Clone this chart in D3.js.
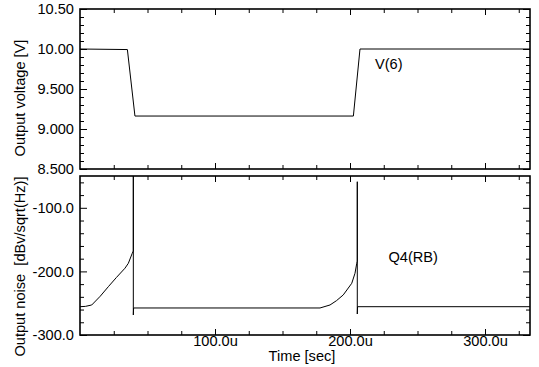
<!DOCTYPE html>
<html><head><meta charset="utf-8">
<script src="https://cdn.jsdelivr.net/npm/d3@7"></script>
<style>
html,body{margin:0;padding:0;background:#fff;}
svg{display:block;font-family:"Liberation Sans",Arial,sans-serif;}
</style></head>
<body><svg id="c" width="539" height="367"></svg>
<script>
// ---- data (time in microseconds) ----
const timeV  = [0, 35.1, 40.7, 202.5, 207.4, 333.3];
const voltV  = [10.0, 9.993, 9.162, 9.162, 10.0, 10.0];

const timeN  = [0, 4, 8.7, 15, 21, 27, 33.3, 35.8, 38.7, 39.5, 39.5, 39.5, 39.7, 177.8, 185.2, 190, 195, 201.3, 203.7, 205, 205.4, 205.4, 205.4, 205.6, 333.3];
const noiseN = [-255.5, -255, -252.8, -239, -224, -209.5, -195, -187.3, -171.5, -168, -50, -268.5, -257.5, -257.5, -252.8, -246, -237, -218.7, -203, -187.3, -184, -59, -267, -255.5, -255.5];

const xMajor = [100, 200, 300];
const xMajorLabels = ["100.0u", "200.0u", "300.0u"];
const xMinor = [25, 50, 75, 125, 150, 175, 225, 250, 275, 325];

const vMajor = [10.5, 10.0, 9.5, 9.0, 8.5];
const vMajorLabels = ["10.50", "10.00", "9.500", "9.000", "8.500"];
const vMinor = [10.4, 10.3, 10.2, 10.1, 9.9, 9.8, 9.7, 9.6, 9.4, 9.3, 9.2, 9.1, 8.9, 8.8, 8.7, 8.6];

const nMajor = [-100, -200, -300];
const nMajorLabels = ["-100.0", "-200.0", "-300.0"];
const nMinor = [-60, -80, -120, -140, -160, -180, -220, -240, -260, -280];

const seriesLabels = ["V(6)", "Q4(RB)"];
const yTitles = ["Output voltage [V]", "Output noise  [dBv/sqrt(Hz)]"];
const xTitle = "Time [sec]";

// ---- layout ----
const svg = d3.select("#c");
const L = 80, R = 530;
const top1 = 9, bot1 = 169;
const top2 = 176, bot2 = 335;
const FS = 14.6;

const x = d3.scaleLinear().domain([0, 333.333]).range([L, R]);
const yV = d3.scaleLinear().domain([8.5, 10.5]).range([bot1, top1]);
const yN = d3.scaleLinear().domain([-300, -50]).range([bot2, top2]);

function panel(y, top, bot, major, majorLabels, minor, idx) {
  const g = svg.append("g");
  const cid = "clip" + idx;
  svg.append("clipPath").attr("id", cid).append("rect")
    .attr("x", L).attr("y", top).attr("width", R - L).attr("height", bot - top);

  function styleAxis(sel) {
    sel.select(".domain").remove();
    sel.selectAll(".tick line").attr("stroke", "#000").attr("stroke-width", 1);
    sel.selectAll("text").attr("font-size", FS).attr("fill", "#000")
      .attr("font-family", '"Liberation Sans",Arial,sans-serif');
  }
  g.append("g").attr("transform", `translate(${L},0)`)
    .call(d3.axisLeft(y).tickValues(major).tickSize(-7).tickPadding(6)
      .tickFormat((d, i) => majorLabels[i]))
    .call(styleAxis);
  g.append("g").attr("transform", `translate(${L},0)`)
    .call(d3.axisLeft(y).tickValues(minor).tickSize(-4).tickFormat(""))
    .call(styleAxis);
  g.append("g").attr("transform", `translate(${R},0)`)
    .call(d3.axisRight(y).tickValues(major).tickSize(-7).tickFormat(""))
    .call(styleAxis);
  g.append("g").attr("transform", `translate(${R},0)`)
    .call(d3.axisRight(y).tickValues(minor).tickSize(-4).tickFormat(""))
    .call(styleAxis);
  g.append("g").attr("transform", `translate(0,${top})`)
    .call(d3.axisTop(x).tickValues(xMajor).tickSize(-6).tickFormat(""))
    .call(styleAxis);
  g.append("g").attr("transform", `translate(0,${top})`)
    .call(d3.axisTop(x).tickValues(xMinor).tickSize(-4).tickFormat(""))
    .call(styleAxis);
  g.append("g").attr("transform", `translate(0,${bot})`)
    .call(d3.axisBottom(x).tickValues(xMajor).tickSize(-6).tickPadding(1)
      .tickFormat((d, i) => idx === 2 ? xMajorLabels[i] : ""))
    .call(styleAxis);
  g.append("g").attr("transform", `translate(0,${bot})`)
    .call(d3.axisBottom(x).tickValues(xMinor).tickSize(-4).tickFormat(""))
    .call(styleAxis);
  g.append("rect").attr("x", L).attr("y", top).attr("width", R - L).attr("height", bot - top)
    .attr("fill", "none").attr("stroke", "#000").attr("stroke-width", 1.6);
  return cid;
}

const c1 = panel(yV, top1, bot1, vMajor, vMajorLabels, vMinor, 1);
const c2 = panel(yN, top2, bot2, nMajor, nMajorLabels, nMinor, 2);

const lineV = d3.line().x((d, i) => x(timeV[i])).y(d => yV(d));
svg.append("path").datum(voltV).attr("d", lineV).attr("clip-path", `url(#${c1})`)
  .attr("fill", "none").attr("stroke", "#000").attr("stroke-width", 1);

const lineN = d3.line().x((d, i) => x(timeN[i])).y(d => yN(d));
svg.append("path").datum(noiseN).attr("d", lineN).attr("clip-path", `url(#${c2})`)
  .attr("fill", "none").attr("stroke", "#000").attr("stroke-width", 1);

svg.append("text").attr("x", x(218.5)).attr("y", yV(9.75)).attr("font-size", FS).text(seriesLabels[0]);
svg.append("text").attr("x", x(228.5)).attr("y", yN(-185)).attr("font-size", FS).text(seriesLabels[1]);

svg.append("text").attr("transform", `translate(25,${(top1 + bot1) / 2 + 9}) rotate(-90)`)
  .attr("text-anchor", "middle").attr("font-size", FS).text(yTitles[0]);
svg.append("text").attr("transform", `translate(25,${(top2 + bot2) / 2 + 11}) rotate(-90)`)
  .attr("text-anchor", "middle").attr("font-size", FS).style("white-space", "pre").text(yTitles[1]);
svg.append("text").attr("x", 302).attr("y", 361).attr("text-anchor", "middle")
  .attr("font-size", FS).text(xTitle);
</script></body></html>
